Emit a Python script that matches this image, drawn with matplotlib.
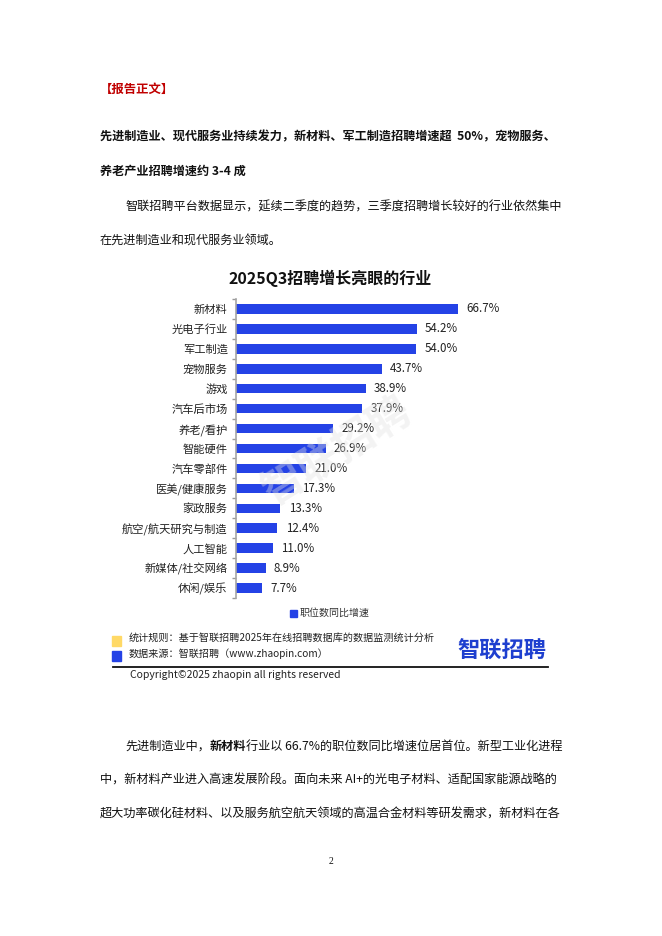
import matplotlib
matplotlib.use("Agg")
import matplotlib.pyplot as plt
from matplotlib.patches import Rectangle
from matplotlib.lines import Line2D

plt.rcParams['font.family'] = ['Noto Sans CJK SC', 'DejaVu Sans']

categories = ["新材料", "光电子行业", "军工制造", "宠物服务", "游戏", "汽车后市场", "养老/看护",
              "智能硬件", "汽车零部件", "医美/健康服务", "家政服务", "航空/航天研究与制造",
              "人工智能", "新媒体/社交网络", "休闲/娱乐"]
values = [66.7, 54.2, 54.0, 43.7, 38.9, 37.9, 29.2, 26.9, 21.0, 17.3, 13.3, 12.4, 11.0, 8.9, 7.7]
series_name = "职位数同比增速"
title = "2025Q3招聘增长亮眼的行业"

W, H = 662, 936
fig = plt.figure(figsize=(W / 100, H / 100), dpi=100)
fig.patch.set_facecolor("white")
renderer = fig.canvas.get_renderer()


def ft(x, y, s, **kw):
    kw.setdefault("va", "center")
    kw.setdefault("ha", "left")
    return fig.text(x / W, 1 - y / H, s, **kw)


def ft_runs(x, y, runs, **kw):
    # draw consecutive text runs, each with its own weight
    for s, weight in runs:
        t = ft(x, y, s, fontweight=weight, **kw)
        bb = t.get_window_extent(renderer=renderer)
        x += bb.width


BAR = "#2442E6"
TXT = "#111111"
BODY = 8.75

# Document text
ft(100, 89, "【报告正文】", fontsize=8.9, fontweight="bold", color="#C00000")
ft(100, 137, "先进制造业、现代服务业持续发力，新材料、军工制造招聘增速超  50%，宠物服务、",
   fontsize=BODY, fontweight="bold", color=TXT)
ft(100, 171, "养老产业招聘增速约 3-4 成", fontsize=BODY, fontweight="bold", color=TXT)
ft(125, 207, "智联招聘平台数据显示，延续二季度的趋势，三季度招聘增长较好的行业依然集中",
   fontsize=BODY, color=TXT)
ft(100, 241, "在先进制造业和现代服务业领域。", fontsize=BODY, color=TXT)

ft_runs(125, 746, [("先进制造业中，", "normal"), ("新材料", "bold"),
                   ("行业以 66.7%的职位数同比增速位居首位。新型工业化进程", "normal")],
        fontsize=BODY, color=TXT)
ft(100, 780, "中，新材料产业进入高速发展阶段。面向未来 AI+的光电子材料、适配国家能源战略的",
   fontsize=BODY, color=TXT)
ft(100, 814, "超大功率碳化硅材料、以及服务航空航天领域的高温合金材料等研发需求，新材料在各",
   fontsize=BODY, color=TXT)
ft(331, 862, "2", fontsize=7, color=TXT, ha="center", family="Liberation Serif")

# Chart title
ft(330, 278, title, fontsize=11.5, fontweight="bold", color=TXT, ha="center")

# Chart axes
left, right, top, bottom = 236, 536, 299, 598
ax = fig.add_axes([left / W, 1 - bottom / H, (right - left) / W, (bottom - top) / H])
ypos = list(range(len(categories)))
ax.barh(ypos, values, height=0.48, color=BAR)
ax.set_xlim(0, 90)
ax.set_ylim(len(categories) - 0.5, -0.5)
ax.set_yticks(ypos)
ax.set_yticklabels(categories, fontsize=8.1, color="#222222")
ax.set_yticks([i - 0.5 for i in range(len(categories) + 1)], minor=True)
ax.tick_params(axis="y", which="major", length=0, pad=6)
ax.tick_params(axis="y", which="minor", length=3, color="#999999", width=1)
ax.set_xticks([])
for s in ["top", "right", "bottom"]:
    ax.spines[s].set_visible(False)
ax.spines["left"].set_color("#A6A6A6")
ax.spines["left"].set_linewidth(1.2)
ax.set_facecolor("none")
for i, v in enumerate(values):
    ax.annotate(f"{v:.1f}%", (v, i), xytext=(6, 0), textcoords="offset points",
                va="center", ha="left", fontsize=8.3, color="#222222")

# Legend
fig.patches.append(Rectangle((290 / W, 1 - 617 / H), 7 / W, 7 / H, color=BAR,
                             transform=fig.transFigure, figure=fig))
ft(300, 613, series_name, fontsize=7.2, color="#333333")

# Watermark
ft(338, 452, "智联招聘", fontsize=30, color="#E2E2E2", alpha=0.4, ha="center",
   rotation=32, fontweight="bold")

# Footer
fig.patches.append(Rectangle((112 / W, 1 - 646 / H), 9 / W, 10 / H, color="#FFD966",
                             transform=fig.transFigure, figure=fig))
fig.patches.append(Rectangle((112 / W, 1 - 661 / H), 9 / W, 10 / H, color=BAR,
                             transform=fig.transFigure, figure=fig))
ft(129, 638, "统计规则：基于智联招聘2025年在线招聘数据库的数据监测统计分析", fontsize=7.25, color="#222222")
ft(129, 654, "数据来源：智联招聘（www.zhaopin.com）", fontsize=7.25, color="#222222")
ft(502, 651, "智联招聘", fontsize=16, fontweight="bold", color="#1E3FCF", ha="center")
fig.lines.append(Line2D([113 / W, 548 / W], [1 - 667 / H, 1 - 667 / H], color="#111111",
                        linewidth=1.3, transform=fig.transFigure))
ft(130, 675, "Copyright©2025 zhaopin all rights reserved", fontsize=7.5, color="#222222")

fig.savefig("out.png", dpi=100, facecolor="white")
